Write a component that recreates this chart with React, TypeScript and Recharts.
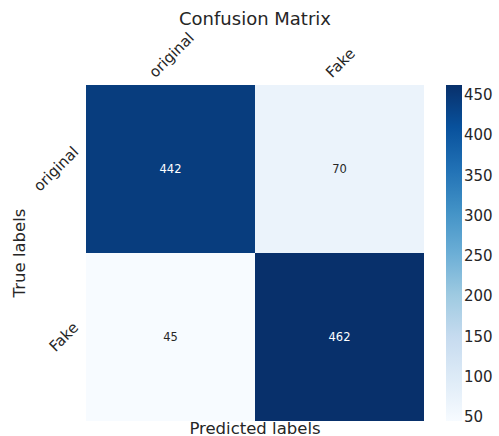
import React from 'react';
import { Bar, BarChart, LabelList, XAxis, YAxis } from 'recharts';

const trueLabels = ['original', 'Fake'];
const predictedLabels = ['original', 'Fake'];
// rows = true label, columns = predicted label
const originalRow = [442, 70];
const fakeRow = [45, 462];
const matrix = [originalRow, fakeRow];
const colorbarTicks = [50, 100, 150, 200, 250, 300, 350, 400, 450];

const BLUES = ['#f7fbff', '#deebf7', '#c6dbef', '#9ecae1', '#6baed6', '#4292c6', '#2171b5', '#08519c', '#08306b'];
const FONT = '"DejaVu Sans", sans-serif';
const TEXT = '#262626';

const allValues = matrix.flat();
const vMin = Math.min(...allValues);
const vMax = Math.max(...allValues);

const hexToRgb = (hex: string) => [1, 3, 5].map((i) => parseInt(hex.slice(i, i + 2), 16));

const blues = (t: number) => {
  const clamped = Math.max(0, Math.min(1, t));
  const pos = clamped * (BLUES.length - 1);
  const i = Math.min(BLUES.length - 2, Math.floor(pos));
  const f = pos - i;
  const a = hexToRgb(BLUES[i]);
  const b = hexToRgb(BLUES[i + 1]);
  const c = a.map((v, k) => Math.round(v + (b[k] - v) * f));
  return `rgb(${c[0]},${c[1]},${c[2]})`;
};

const cellColor = (v: number) => blues((v - vMin) / (vMax - vMin));

let canvasCtx: CanvasRenderingContext2D | null = null;
const measure = (text: string, size: number) => {
  if (!canvasCtx && typeof document !== 'undefined') {
    canvasCtx = document.createElement('canvas').getContext('2d');
  }
  if (!canvasCtx) return text.length * size * 0.6;
  canvasCtx.font = `${size}px "DejaVu Sans"`;
  return canvasCtx.measureText(text).width;
};

const TICK_SIZE = 15;

// rotated 45° label whose bounding box sits just above the tick
const TopTick = (props: any) => {
  const { x, y, payload } = props;
  const label = predictedLabels[Math.floor(payload.value)];
  if (!label) return null;
  const w = measure(label, TICK_SIZE);
  const half = (w + 0.97 * TICK_SIZE) / (2 * Math.SQRT2);
  const cx = x + 1;
  const cy = y - 5 - half;
  return (
    <text
      x={cx}
      y={cy}
      transform={`rotate(-45 ${cx} ${cy})`}
      textAnchor="middle"
      dominantBaseline="central"
      fontSize={TICK_SIZE}
      fontFamily={FONT}
      fill={TEXT}
    >
      {label}
    </text>
  );
};

const LeftTick = (props: any) => {
  const { x, y, payload } = props;
  const label = String(payload.value);
  const w = measure(label, TICK_SIZE);
  const half = (w + 0.97 * TICK_SIZE) / (2 * Math.SQRT2);
  const cx = x - 5 - half;
  const cy = y;
  return (
    <text
      x={cx}
      y={cy}
      transform={`rotate(-45 ${cx} ${cy})`}
      textAnchor="middle"
      dominantBaseline="central"
      fontSize={TICK_SIZE}
      fontFamily={FONT}
      fill={TEXT}
    >
      {label}
    </text>
  );
};

const tableData = trueLabels.map((row, r) => ({
  row,
  cells: matrix[r],
  span0: 1,
  span1: 1,
}));

const colorbarData = [{ name: 'scale', span: [vMin, vMax] }];

const CellValue = (col: number) => (props: any) => {
  const { x, y, width, height, index } = props;
  const v = matrix[index][col];
  const dark = (v - vMin) / (vMax - vMin) > 0.5;
  return (
    <text
      x={x + width / 2}
      y={y + height / 2}
      textAnchor="middle"
      dominantBaseline="central"
      fontSize={11.5}
      fontFamily={FONT}
      fill={dark ? '#ffffff' : TEXT}
    >
      {v}
    </text>
  );
};

export default function App() {
  const plotTop = 85;
  const plotBottom = 15;
  const axisTopH = 60;
  const axisLeftW = 60;
  return (
    <div
      style={{
        position: 'relative',
        width: 499,
        height: 436,
        overflow: 'hidden',
        fontFamily: FONT,
        background: '#fff',
      }}
    >
      <style>{'html,body{margin:0;padding:0;overflow:hidden;}'}</style>
      <div style={{ position: 'absolute', left: 0, top: 0 }}>
        <BarChart
          width={499}
          height={436}
          data={tableData}
          layout="vertical"
          margin={{ top: plotTop - axisTopH, right: 75, bottom: plotBottom, left: 86 - axisLeftW }}
          barCategoryGap={0}
          barGap={0}
        >
          <XAxis
            type="number"
            orientation="top"
            domain={[0, predictedLabels.length]}
            ticks={predictedLabels.map((_, i) => i + 0.5)}
            height={axisTopH}
            tickSize={0}
            tickMargin={0}
            axisLine={false}
            tickLine={false}
            tick={TopTick}
            interval={0}
          />
          <YAxis
            type="category"
            dataKey="row"
            width={axisLeftW}
            tickSize={0}
            tickMargin={0}
            axisLine={false}
            tickLine={false}
            tick={LeftTick}
            interval={0}
          />
          {predictedLabels.map((label, col) => (
            <Bar
              key={label}
              dataKey={`span${col}`}
              stackId="m"
              isAnimationActive={false}
              shape={(props: any) => (
                <rect
                  x={props.x}
                  y={props.y}
                  width={props.width}
                  height={props.height}
                  fill={cellColor(matrix[props.index][col])}
                />
              )}
            >
              <LabelList dataKey={`span${col}`} content={CellValue(col)} />
            </Bar>
          ))}
        </BarChart>
      </div>
      <div style={{ position: 'absolute', left: 0, top: 0 }}>
        <BarChart
          width={499}
          height={436}
          data={colorbarData}
          margin={{ top: plotTop, right: 0, bottom: plotBottom, left: 446 }}
          barCategoryGap={0}
        >
          <defs>
            <linearGradient id="bluesGrad" x1="0" y1="1" x2="0" y2="0">
              {BLUES.map((c, i) => (
                <stop key={c} offset={`${(i / (BLUES.length - 1)) * 100}%`} stopColor={c} />
              ))}
            </linearGradient>
          </defs>
          <XAxis type="category" dataKey="name" hide />
          <YAxis
            type="number"
            orientation="right"
            domain={[vMin, vMax]}
            ticks={colorbarTicks}
            width={37}
            tickSize={0}
            tickMargin={2}
            axisLine={false}
            tickLine={false}
            tick={{ fontSize: TICK_SIZE, fill: TEXT, fontFamily: FONT, textAnchor: 'start' }}
            interval={0}
          />
          <Bar dataKey="span" fill="url(#bluesGrad)" isAnimationActive={false} />
        </BarChart>
      </div>
      <svg width={499} height={436} style={{ position: 'absolute', left: 0, top: 0, pointerEvents: 'none' }}>
        <text x={255} y={25} textAnchor="middle" fontSize={18} fontFamily={FONT} fill={TEXT}>
          Confusion Matrix
        </text>
        <text x={255} y={434} textAnchor="middle" fontSize={16.5} fontFamily={FONT} fill={TEXT}>
          Predicted labels
        </text>
        <text
          x={25}
          y={253}
          transform="rotate(-90 25 253)"
          textAnchor="middle"
          fontSize={16.5}
          fontFamily={FONT}
          fill={TEXT}
        >
          True labels
        </text>
      </svg>
    </div>
  );
}
